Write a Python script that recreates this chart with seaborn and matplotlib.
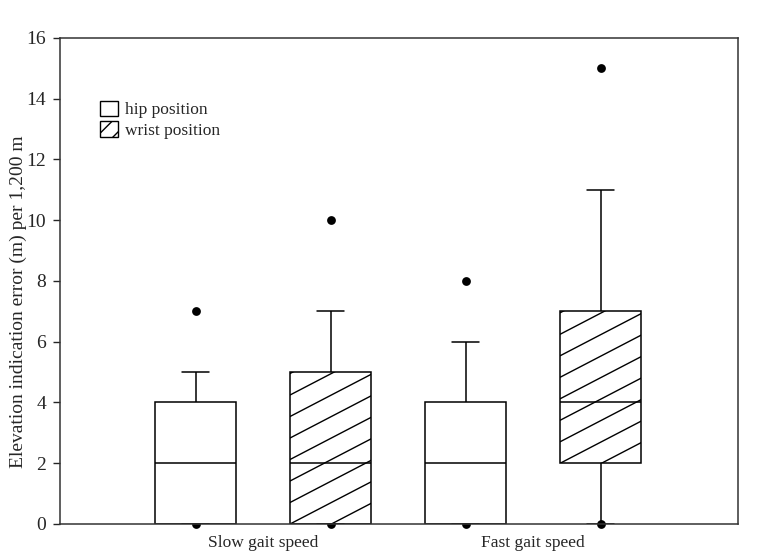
#elevation error box plots - hip vs wrist position

import math
import seaborn as sns
import matplotlib.pyplot as plt
import matplotlib.patches as mpatches
from matplotlib.lines import Line2D
from matplotlib.transforms import IdentityTransform
import pandas as pd

speeds = ['Slow gait speed', 'Fast gait speed']
positions = ['hip position', 'wrist position']

#box summaries: lower whisker, Q1, median, Q3, upper whisker
slow_hip = [0, 0, 2, 4, 5]
slow_wrist = [0, 0, 2, 5, 7]
fast_hip = [0, 0, 2, 4, 6]
fast_wrist = [0, 2, 4, 7, 11]

#single points drawn as dots
slow_hip_out = [7, 0]
slow_wrist_out = [10, 0]
fast_hip_out = [8, 0]
fast_wrist_out = [15, 0]

groups = [
    (speeds[0], positions[0], slow_hip, slow_hip_out),
    (speeds[0], positions[1], slow_wrist, slow_wrist_out),
    (speeds[1], positions[0], fast_hip, fast_hip_out),
    (speeds[1], positions[1], fast_wrist, fast_wrist_out),
]

rows = []
for speed, pos, box, _ in groups:
    for v in box:
        rows.append({'speed': speed, 'position': pos, 'error': v})
df = pd.DataFrame(rows)

sns.set_style('ticks')
plt.rcParams['font.family'] = ['Liberation Serif', 'DejaVu Serif']
plt.rcParams['hatch.linewidth'] = 1.0

fig = plt.figure(figsize=(7.69, 5.58), dpi=100)
ax = fig.add_axes([0.078, 0.061, 0.882, 0.871])

#whiskers at min/max of the five summary values -> box drawn exactly from them
sns.boxplot(data=df, x='speed', y='error', hue='position',
            order=speeds, hue_order=positions,
            whis=(0, 100), width=1.0, gap=0.4,
            palette=['white', 'white'], linecolor='black', linewidth=1.1,
            showfliers=False, legend=False, capwidths=0.1, ax=ax)

#box centres from the drawn patches, left to right
boxes = sorted(ax.patches, key=lambda p: p.get_path().get_extents().x0)
centres = []
hatched = []
for i, p in enumerate(boxes):
    ext = p.get_path().get_extents()
    centres.append((ext.x0 + ext.x1) / 2)
    if groups[i][1] == 'wrist position':
        hatched.append(p)

out_x = []
out_y = []
for i, (_, _, _, outs) in enumerate(groups):
    for v in outs:
        out_x.append(centres[i])
        out_y.append(v)
sns.scatterplot(x=out_x, y=out_y, color='black', s=40, linewidth=0,
                clip_on=False, zorder=1, legend=False, ax=ax)

ax.set_xlim(-0.752, 1.759)
ax.set_ylim(0, 16)
ax.set_yticks(range(0, 17, 2))
ax.tick_params(axis='y', direction='out', length=5, pad=5, labelsize=14, width=1)
ax.tick_params(axis='x', length=0, labelsize=12.5, pad=8)
ax.set_xlabel('')
ax.set_ylabel('Elevation indication error (m) per 1,200 m', fontsize=14)
ax.yaxis.set_label_coords(-0.048, 0.457)
for s in ax.spines.values():
    s.set_linewidth(1.1)
    s.set_color('#333333')

#shallow diagonal hatching (about 27 deg), clipped to each wrist box,
#starting from the bottom-left corner
fig.canvas.draw()
slope = 0.52
step = 21.5
for p in hatched:
    bb = p.get_window_extent()
    w = bb.x1 - bb.x0
    k0 = math.ceil(-slope * w / step)
    k1 = math.floor(bb.height / step)
    for k in range(k0, k1 + 1):
        c = k * step
        ln = Line2D([bb.x0, bb.x1], [bb.y0 + c, bb.y0 + c + slope * w],
                    transform=IdentityTransform(), color='black', lw=1.0,
                    zorder=2.1)
        ln.set_clip_path(p)
        ax.add_artist(ln)

handles = [mpatches.Patch(facecolor='white', edgecolor='black', label=positions[0]),
           mpatches.Patch(facecolor='white', edgecolor='black', hatch='//', label=positions[1])]
ax.legend(handles=handles, loc='upper left', bbox_to_anchor=(0.036, 0.903),
          frameon=False, fontsize=12.5, handlelength=1.05, handleheight=1.0,
          handletextpad=0.4, labelspacing=0.15)

fig.savefig('out.png', dpi=100)
